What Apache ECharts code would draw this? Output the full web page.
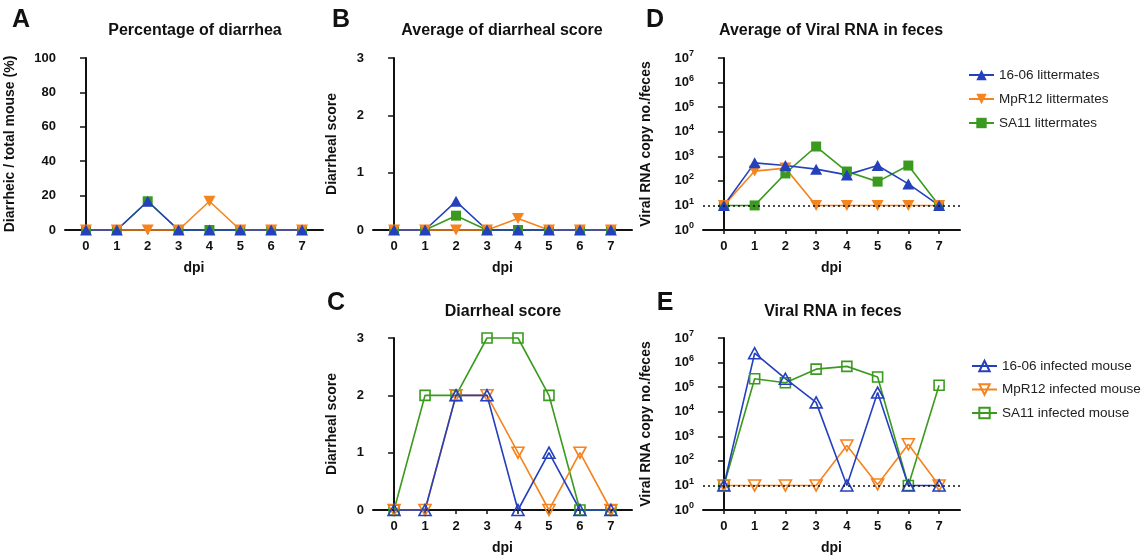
<!DOCTYPE html>
<html><head><meta charset="utf-8">
<script src="https://cdn.jsdelivr.net/npm/echarts@6/dist/echarts.min.js"></script>
<style>html,body{margin:0;padding:0;background:#fff}#c{width:1145px;height:558px}</style>
</head><body><div id="c"></div>
<script>
const dpi = [0,1,2,3,4,5,6,7];
// A: Percentage of diarrhea
const pctLit1606 = [0,0,16.7,0,0,0,0,0];
const pctLitMpR12 = [0,0,0,0,16.7,0,0,0];
const pctLitSA11 = [0,0,16.7,0,0,0,0,0];
// B: Average diarrheal score
const scoreLit1606 = [0,0,0.5,0,0,0,0,0];
const scoreLitMpR12 = [0,0,0,0,0.2,0,0,0];
const scoreLitSA11 = [0,0,0.25,0,0,0,0,0];
// D: Average viral RNA
const rnaLit1606 = [10,540,420,300,175,420,75,10];
const rnaLitMpR12 = [10,250,330,10,10,10,10,10];
const rnaLitSA11 = [10,10,200,2500,240,93,420,10];
// C: Diarrheal score infected
const scoreInf1606 = [0,0,2,2,0,1,0,0];
const scoreInfMpR12 = [0,0,2,2,1,0,1,0];
const scoreInfSA11 = [0,2,2,3,3,2,0,0];
// E: Viral RNA infected
const rnaInf1606 = [10,2400000,220000,24000,10,60000,10,10];
const rnaInfMpR12 = [10,10,10,10,420,11,470,10];
const rnaInfSA11 = [10,220000,150000,540000,700000,260000,10,120000];

const names1606L = '16-06 littermates', namesMpL = 'MpR12 littermates', namesSAL = 'SA11 littermates';
const names1606I = '16-06 infected mouse', namesMpI = 'MpR12 infected mouse', namesSAI = 'SA11 infected mouse';

const BLUE = '#2440bd', ORANGE = '#f5841f', GREEN = '#3a9a1e';
const DOWN = 'path://M0,0 L10,0 L5,9 Z';
const FONT = '"Liberation Sans", Arial, sans-serif';

const grids = [
  {left:65, top:58, width:258, height:172},   // A
  {left:373, top:58, width:259, height:172},  // B
  {left:703, top:58, width:257, height:172},  // D
  {left:373, top:338, width:259, height:172}, // C
  {left:703, top:338, width:257, height:172}  // E
];

function xAx(i){
  return {gridIndex:i, type:'value', min:-0.68, max:7.68,
    name:'dpi', nameLocation:'middle', nameGap:31,
    nameTextStyle:{fontFamily:FONT, fontWeight:'bold', fontSize:14, color:'#111'},
    axisLine:{lineStyle:{color:'#111', width:2}},
    axisTick:{show:true, length:4, customValues:dpi, lineStyle:{color:'#111', width:1.5}},
    axisLabel:{customValues:dpi, margin:10, fontFamily:FONT, fontWeight:'bold', fontSize:13, color:'#111'},
    splitLine:{show:false}};
}
function yLin(i, max, interval, name, gap){
  return {gridIndex:i, type:'value', min:0, max:max, interval:interval,
    name:name, nameLocation:'middle', nameGap:gap, nameRotate:90,
    nameTextStyle:{fontFamily:FONT, fontWeight:'bold', fontSize:14, color:'#111'},
    axisLine:{show:true, lineStyle:{color:'#111', width:2}},
    axisTick:{show:true, length:6, lineStyle:{color:'#111', width:1.5}},
    axisLabel:{margin:9, fontFamily:FONT, fontWeight:'bold', fontSize:13, color:'#111'},
    splitLine:{show:false}};
}
function yLog(i){
  return {gridIndex:i, type:'log', logBase:10, min:1, max:1e7,
    name:'Viral RNA copy no./feces', nameLocation:'middle', nameGap:50, nameRotate:90,
    nameTextStyle:{fontFamily:FONT, fontWeight:'bold', fontSize:14, color:'#111'},
    axisLine:{show:true, lineStyle:{color:'#111', width:2}},
    axisTick:{show:true, length:6, lineStyle:{color:'#111', width:1.5}},
    axisLabel:{margin:9, fontFamily:FONT, fontWeight:'bold', fontSize:13, color:'#111',
      formatter: v => '10{s|' + Math.round(Math.log10(v)) + '}',
      rich:{s:{fontFamily:FONT, fontWeight:'bold', fontSize:9, color:'#111', verticalAlign:'top', padding:[0,0,8,0]}}},
    splitLine:{show:false}};
}

function ser(i, name, vals, color, symbol, hollow, size){
  return {type:'line', name:name, xAxisIndex:i, yAxisIndex:i, clip:false,
    data: dpi.map((d,k)=>[d, vals[k]]),
    symbol:symbol, symbolSize:size, showAllSymbol:true,
    lineStyle:{color:color, width:1.6},
    itemStyle: hollow ? {color:'rgba(255,255,255,0)', borderColor:color, borderWidth:1.6} : {color:color, borderWidth:0},
    emphasis:{disabled:true}, animation:false};
}
function dotted(){
  return {silent:true, symbol:'none', label:{show:false},
    lineStyle:{color:'#111', type:[2,3], width:1.5}, data:[{yAxis:10}]};
}

const series = [];
// A
series.push(ser(0, namesSAL, pctLitSA11, GREEN, 'rect', false, 10));
series.push(ser(0, namesMpL, pctLitMpR12, ORANGE, DOWN, false, [12,11]));
series.push(ser(0, names1606L, pctLit1606, BLUE, 'triangle', false, [12,11]));
// B
series.push(ser(1, namesSAL, scoreLitSA11, GREEN, 'rect', false, 10));
series.push(ser(1, namesMpL, scoreLitMpR12, ORANGE, DOWN, false, [12,11]));
series.push(ser(1, names1606L, scoreLit1606, BLUE, 'triangle', false, [12,11]));
// D
const dS = ser(2, namesSAL, rnaLitSA11, GREEN, 'rect', false, 10); dS.markLine = dotted();
series.push(dS);
series.push(ser(2, namesMpL, rnaLitMpR12, ORANGE, DOWN, false, [12,11]));
series.push(ser(2, names1606L, rnaLit1606, BLUE, 'triangle', false, [12,11]));
// C
series.push(ser(3, namesSAI, scoreInfSA11, GREEN, 'rect', true, 10));
series.push(ser(3, namesMpI, scoreInfMpR12, ORANGE, DOWN, true, [12,11]));
series.push(ser(3, names1606I, scoreInf1606, BLUE, 'triangle', true, [12,11]));
// E
const eS = ser(4, namesSAI, rnaInfSA11, GREEN, 'rect', true, 10); eS.markLine = dotted();
series.push(eS);
series.push(ser(4, namesMpI, rnaInfMpR12, ORANGE, DOWN, true, [12,11]));
series.push(ser(4, names1606I, rnaInf1606, BLUE, 'triangle', true, [12,11]));

const titleStyle = {fontWeight:'bold', fontSize:16, color:'#111'};
const letterStyle = {fontWeight:'bold', fontSize:25, color:'#111'};

const legendText = {fontFamily:FONT, fontSize:13.5, color:'#222'};
const option = {
  animation:false,
  grid: grids,
  xAxis: [0,1,2,3,4].map(xAx),
  yAxis: [
    yLin(0, 100, 20, 'Diarrheic / total mouse (%)', 48),
    yLin(1, 3, 1, 'Diarrheal score', 34),
    yLog(2),
    yLin(3, 3, 1, 'Diarrheal score', 34),
    yLog(4)
  ],
  graphic: [
    ['A',21,20,letterStyle],['B',341,20,letterStyle],['D',655,20,letterStyle],
    ['C',336,303,letterStyle],['E',665,303,letterStyle],
    ['Percentage of diarrhea',195,31,titleStyle],['Average of diarrheal score',502,31,titleStyle],
    ['Average of Viral RNA in feces',831,31,titleStyle],['Diarrheal score',503,312,titleStyle],
    ['Viral RNA in feces',833,312,titleStyle]
  ].map(t => ({type:'text', x:t[1], y:t[2], style:{text:t[0], align:'center', verticalAlign:'middle',
      font: t[3].fontWeight + ' ' + t[3].fontSize + 'px ' + FONT, fill:t[3].color}})),
  legend: [
    {orient:'vertical', left:963, top:63, itemWidth:25, itemHeight:13, itemGap:10,
     data:[names1606L, namesMpL, namesSAL], textStyle:legendText, selectedMode:false},
    {orient:'vertical', left:966, top:354, itemWidth:25, itemHeight:13, itemGap:9.5,
     data:[names1606I, namesMpI, namesSAI], textStyle:legendText, selectedMode:false}
  ],
  series: series
};
const chart = echarts.init(document.getElementById('c'), null, {renderer:'canvas'});
chart.setOption(option);
</script></body></html>
